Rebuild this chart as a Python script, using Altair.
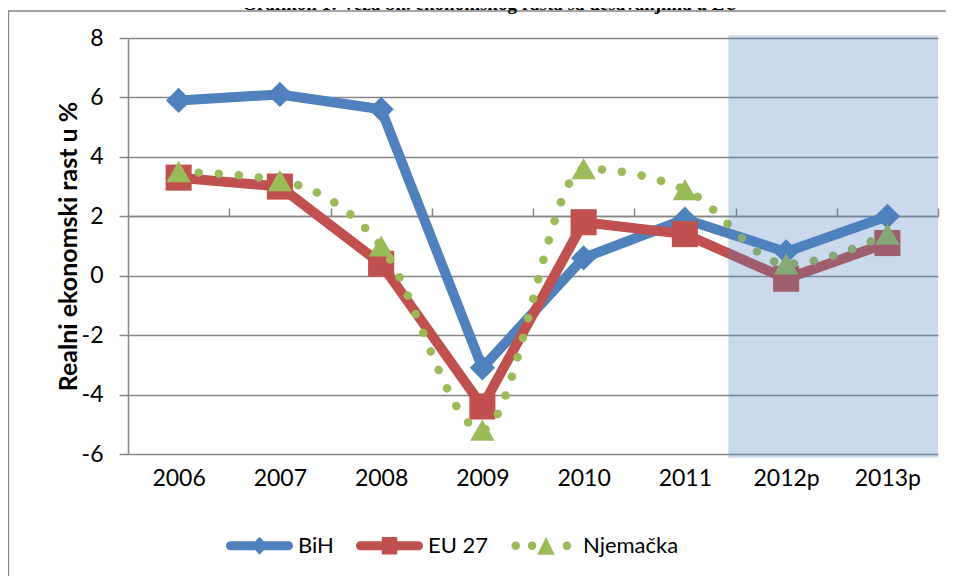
import json
import altair as alt
import pandas as pd

# ---- data ----
years = ["2006", "2007", "2008", "2009", "2010", "2011", "2012p", "2013p"]
bih = [5.9, 6.1, 5.6, -3.1, 0.6, 1.9, 0.8, 2.0]
eu27 = [3.3, 3.0, 0.4, -4.4, 1.8, 1.4, -0.1, 1.1]
njemacka = [3.5, 3.2, 1.0, -5.2, 3.6, 2.9, 0.4, 1.4]
series = ["BiH", "EU 27", "Njemačka"]
colors = ["#4F81BD", "#C0504D", "#9BBB59"]
y_ticks = [-6, -4, -2, 0, 2, 4, 6, 8]
shade_from, shade_to = 5.43, 7.5          # forecast period, in category-index units
shade_bottom, shade_top = -6.13, 8.08
title_text = "Grafikon 1: Veza bh. ekonomskog rasta sa dešavanjima u EU"
y_title = "Realni ekonomski rast u %"

rows = []
for s, vals in zip(series, [bih, eu27, njemacka]):
    for i, (yr, v) in enumerate(zip(years, vals)):
        rows.append({"idx": i, "year": yr, "series": s, "value": v})
df = pd.DataFrame(rows)
shade_df = pd.DataFrame({"x0": [shade_from], "x1": [shade_to],
                         "y0": [shade_bottom], "y1": [shade_top]})

FONT = "Lato"
GRAY = "#868686"
x_scale = alt.Scale(domain=[-0.5, 7.5], nice=False, zero=False)
y_scale = alt.Scale(domain=[-6, 8], nice=False, zero=False)
label_expr = json.dumps(years) + "[round(datum.value)]"

# legend symbols: line + marker drawn as custom paths (unit = half symbol width)
rline = ("M-0.866 -0.134 L0.866 -0.134 A0.134 0.134 0 0 1 0.866 0.134 "
         "L-0.866 0.134 A0.134 0.134 0 0 1 -0.866 -0.134 Z ")
def dot(cx, r=0.127):
    return (f"M{cx - r:.3f} 0 A{r} {r} 0 1 1 {cx + r:.3f} 0 "
            f"A{r} {r} 0 1 1 {cx - r:.3f} 0 Z ")
legend_paths = [
    rline + "M0 -0.27 L0.25 0 L0 0.27 L-0.25 0 Z",
    rline + "M-0.23 -0.26 L0.23 -0.26 L0.23 0.26 L-0.23 0.26 Z",
    dot(-0.86) + dot(-0.37) + dot(0.67) + "M0.045 -0.27 L0.305 0.27 L-0.215 0.27 Z",
]

def sel(name):
    return alt.FieldEqualPredicate(field="series", equal=name)

X_plain = alt.X("idx:Q", scale=x_scale, axis=None)
Y_plain = alt.Y("value:Q", scale=y_scale, axis=None)

frame = alt.Chart(pd.DataFrame({"a": [0]})).mark_rect(
    fill="white", fillOpacity=0, stroke=GRAY, strokeWidth=1.3
).encode(x=alt.value(-119.5), x2=alt.value(840), y=alt.value(-27), y2=alt.value(580))

bih_line = alt.Chart(df).transform_filter(sel("BiH")).mark_line(
    color=colors[0], strokeWidth=10, strokeCap="round", strokeJoin="round"
).encode(
    x=alt.X("idx:Q", scale=x_scale, axis=alt.Axis(
        values=list(range(8)), labelExpr=label_expr, domain=False, ticks=False,
        grid=False, labelFont=FONT, labelFontSize=23, labelColor="black",
        labelPadding=13, labelFlush=False, labelOverlap=False, title=None)),
    y=alt.Y("value:Q", scale=y_scale, axis=alt.Axis(
        values=y_ticks, labelExpr="'' + datum.value", grid=True, gridColor=GRAY,
        gridWidth=1.5, domainColor=GRAY, domainWidth=1.5, tickColor=GRAY,
        tickWidth=1.5, tickSize=9, labelFont=FONT, labelFontSize=23,
        labelColor="black", labelPadding=16, labelFlush=False, labelOverlap=False,
        title=y_title, titleFont=FONT, titleFontSize=25, titleFontWeight="bold",
        titleColor="black", titleX=-60, titleBaseline="middle")),
)

def markers(name, color, shape, size):
    return alt.Chart(df).transform_filter(sel(name)).mark_point(
        filled=True, shape=shape, size=size, color=color, opacity=1
    ).encode(x=X_plain, y=Y_plain)

bih_pts = markers("BiH", colors[0], "diamond", 640)
eu_line = alt.Chart(df).transform_filter(sel("EU 27")).mark_line(
    color=colors[1], strokeWidth=10, strokeCap="round", strokeJoin="round"
).encode(x=X_plain, y=Y_plain)
eu_pts = markers("EU 27", colors[1], "square", 680)
nj_line = alt.Chart(df).transform_filter(sel("Njemačka")).mark_line(
    color=colors[2], strokeWidth=8.5, strokeDash=[0.1, 20], strokeCap="round",
    interpolate="monotone"
).encode(x=X_plain, y=Y_plain)
nj_pts = markers("Njemačka", colors[2], "triangle-up", 600)

shade = alt.Chart(shade_df).mark_rect(color="#4F81BD", opacity=0.3).encode(
    x=alt.X("x0:Q", scale=x_scale, axis=alt.Axis(
        values=[i + 0.5 for i in range(8)], labels=False, domain=True,
        domainColor=GRAY, domainWidth=1.5, ticks=True, tickColor=GRAY,
        tickWidth=1.5, tickSize=8, grid=False, offset=-178, title=None)),
    x2="x1:Q",
    y=alt.Y("y0:Q", scale=y_scale, axis=None),
    y2="y1:Q",
)

leg = alt.Legend(
    title=None, orient="none", legendX=98, legendY=474, direction="horizontal",
    symbolSize=4489, symbolOpacity=1, symbolStrokeWidth=0, labelFont=FONT,
    labelFontSize=22, labelColor="black", labelOffset=5, columnPadding=22,
    padding=0, labelLimit=400,
)
legend_layer = alt.Chart(df).mark_point(filled=True, opacity=0).encode(
    x=X_plain, y=Y_plain,
    color=alt.Color("series:N", scale=alt.Scale(domain=series, range=colors), legend=leg),
    shape=alt.Shape("series:N", scale=alt.Scale(domain=series, range=legend_paths), legend=leg),
)

title = alt.Chart(pd.DataFrame({"t": [title_text]})).mark_text(
    font="Liberation Serif", fontSize=19, fontWeight="bold", align="center",
    baseline="alphabetic", color="black"
).encode(text="t:N", x=alt.value(362), y=alt.value(-28))

chart = alt.layer(
    frame, bih_line, bih_pts, eu_line, eu_pts, nj_line, nj_pts, shade,
    legend_layer, title
).resolve_axis(x="independent", y="independent").properties(
    width=810, height=416,
    autosize=alt.AutoSizeParams(type="none"),
    padding={"left": 120, "top": 30, "right": 8, "bottom": 122},
    background="white",
).configure_view(stroke="transparent")

chart.save("out.html", embed_options={"renderer": "svg", "actions": False})
